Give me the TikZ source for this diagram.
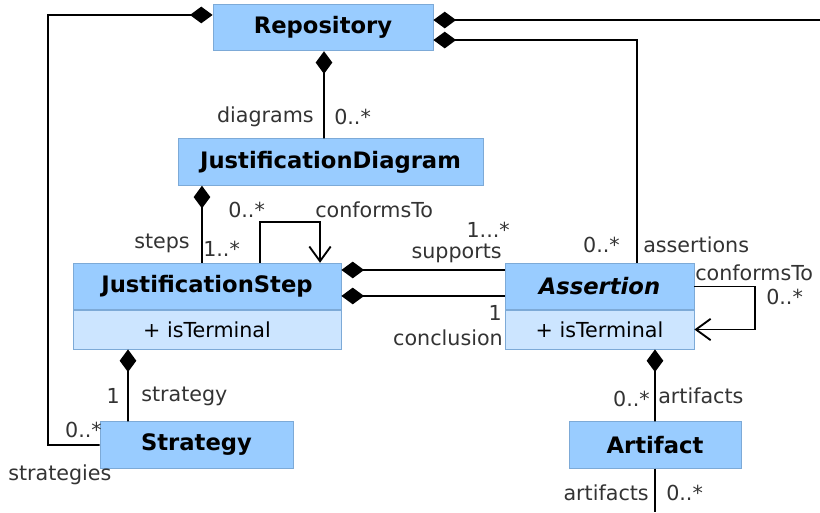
\documentclass[tikz,border=0pt]{standalone}
\usepackage{fontspec}
\setmainfont{DejaVu Sans}
\usetikzlibrary{arrows.meta}
\definecolor{headblue}{RGB}{153,204,255}
\definecolor{attrblue}{RGB}{204,229,255}
\definecolor{edgeblue}{RGB}{125,170,215}
\definecolor{labelgray}{RGB}{51,51,51}

\begin{document}
\begin{tikzpicture}[x=0.75pt, y=-0.75pt,
    classbox/.style={draw=edgeblue, fill=headblue, line width=0.6pt, minimum height=35pt, inner sep=0pt, font=\fontsize{17}{19}\selectfont\bfseries},
    attrbox/.style={draw=edgeblue, fill=attrblue, line width=0.6pt, minimum height=29.25pt, inner sep=0pt, font=\fontsize{15.5}{17}\selectfont},
    role/.style={inner sep=0pt, text=labelgray, font=\fontsize{15.5}{17}\selectfont},
    assoc/.style={line width=1.4pt, black},
    comp/.style={assoc, {Diamond[length=17pt,width=12.5pt]}-},
    conforms/.style={assoc, -{Straight Barb[length=11pt,width=16pt]}}]
        \useasboundingbox (0,0) rectangle (820,512);

        % Classes
        \node[classbox, minimum width=165pt] (repo) at (323,27.5) {Repository};
        \node[classbox, minimum width=228.75pt] (diagram) at (330.5,162) {JustificationDiagram};
        \node[classbox, minimum width=201pt] (jstep) at (207,286.5) {JustificationStep};
        \node[attrbox, minimum width=201pt] (jstepattr) at (207,329.5) {+ isTerminal};
        \node[classbox, minimum width=141.75pt] (assert) at (599.5,286.5) {\itshape Assertion};
        \node[attrbox, minimum width=141.75pt] (assertattr) at (599.5,329.5) {+ isTerminal};
        \node[classbox, minimum width=144.75pt] (strategy) at (196.5,445) {Strategy};
        \node[classbox, minimum width=129pt] (artifact) at (655,445) {Artifact};

        % Free ends and bends
        \coordinate (leftbend) at (48,15);
        \coordinate (rightend) at (820,20);
        \coordinate (bottomend) at (655,512);

        % Compositions from the repository
        \draw[comp] ([yshift=9.4pt]repo.west) -- (leftbend) |- (strategy.west);
        \draw[comp] ([yshift=5.6pt]repo.east) -- (rightend);
        \draw[comp] ([yshift=-9.4pt]repo.east) -| ([xshift=28.1pt]assert.north);
        \draw[comp] ([xshift=0.75pt]repo.south) -- ([xshift=-4.9pt]diagram.north);

        % Steps
        \draw[comp] ([xshift=-96.4pt]diagram.south) -- ([xshift=-3.75pt]jstep.north);
        \draw[conforms] ([xshift=39.75pt]jstep.north) -- ++(0,-41) -| ([xshift=84.75pt]jstep.north);
        \draw[comp] ([yshift=12.4pt]jstep.east) -- ([yshift=12.4pt]assert.west);
        \draw[comp] ([yshift=-7.1pt]jstep.east) -- ([yshift=-7.1pt]assert.west);
        \draw[comp] ([xshift=-59.25pt]jstepattr.south) -- ([xshift=-51.4pt]strategy.north);

        % Assertions
        \draw[conforms] (assert.east) -- ++(61,0) |- (assertattr.east);
        \draw[comp] ([xshift=41.6pt]assertattr.south) -- (artifact.north);
        \draw[assoc] (artifact.south) -- (bottomend);

        % Role names and multiplicities
        \node[role, anchor=east] (rdiagrams) at (314,117) {diagrams};
        \node[role, anchor=west] (mdiagrams) at (334,117) {0..*};
        \node[role, anchor=west] (mstepsup) at (228,210) {0..*};
        \node[role, anchor=east] (rsteps) at (190,243) {steps};
        \node[role, anchor=west] (msteps) at (203,249) {1..*};
        \node[role, anchor=west] (rstepconf) at (315,210) {conformsTo};
        \node[role, anchor=base east] (msupports) at (510,237) {1...*};
        \node[role, anchor=base east] (rsupports) at (502,258) {supports};
        \node[role, anchor=east] (mconclusion) at (502,313) {1};
        \node[role, anchor=east] (rconclusion) at (503,338) {conclusion};
        \node[role, anchor=east] (massertions) at (620,245) {0..*};
        \node[role, anchor=west] (rassertions) at (643,245) {assertions};
        \node[role, anchor=west] (rassertconf) at (695,273) {conformsTo};
        \node[role, anchor=west] (massertconf) at (766,297) {0..*};
        \node[role, anchor=east] (martifacts) at (650,399) {0..*};
        \node[role, anchor=west] (rartifacts) at (658,396) {artifacts};
        \node[role, anchor=east] (rartifactsb) at (649,493) {artifacts};
        \node[role, anchor=west] (martifactsb) at (666,493) {0..*};
        \node[role, anchor=east] (mstrategy) at (120,396) {1};
        \node[role, anchor=west] (rstrategy) at (141,396) {strategy};
        \node[role, anchor=east] (mstrategies) at (102,430) {0..*};
        \node[role, anchor=west] (rstrategies) at (8,475) {strategies};
    \end{tikzpicture}
\end{document}
